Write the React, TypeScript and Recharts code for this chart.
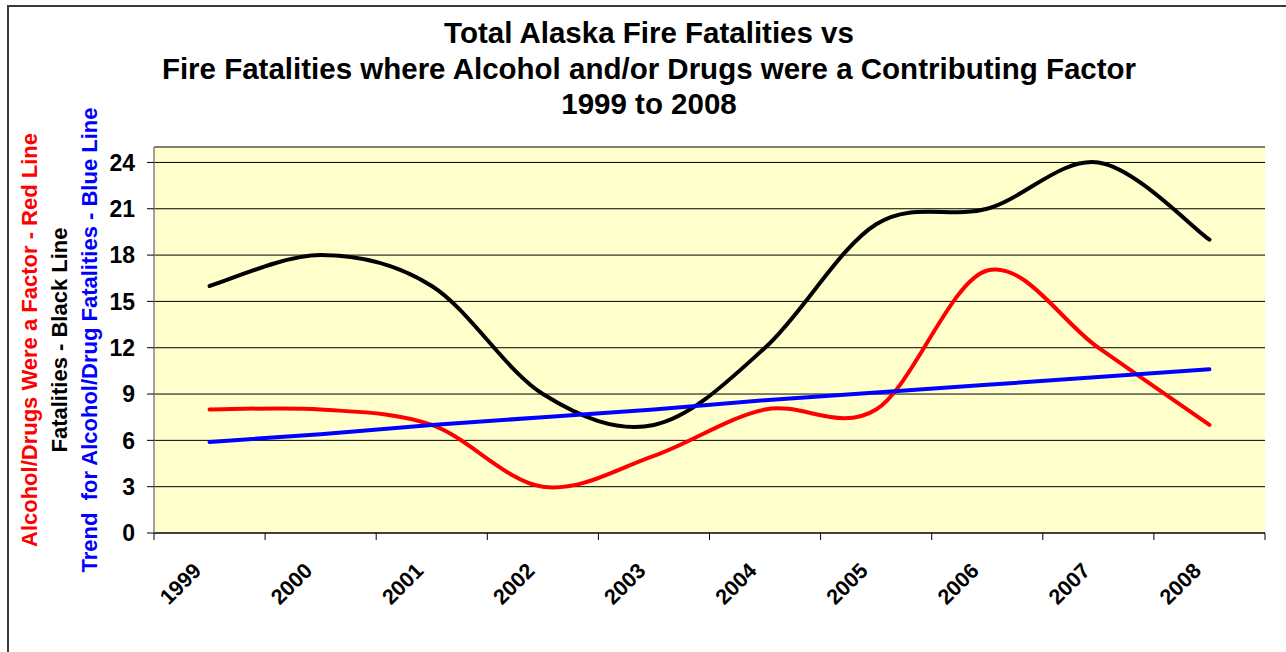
import React from 'react';
import { ComposedChart, Line, XAxis, YAxis, CartesianGrid } from 'recharts';

const years = ['1999', '2000', '2001', '2002', '2003', '2004', '2005', '2006', '2007', '2008'];
const totalFatalities = [16, 18, 16, 9, 7, 12, 20, 21, 24, 19];
const alcoholDrugFatalities = [8, 8, 7, 3, 5, 8, 8, 17, 12, 7];
const alcoholDrugTrend = [5.9, 6.4, 7.0, 7.5, 8.0, 8.6, 9.1, 9.6, 10.1, 10.6];
const yTicks = [0, 3, 6, 9, 12, 15, 18, 21, 24];

const titleLines = [
  'Total Alaska Fire Fatalities vs',
  'Fire Fatalities where Alcohol and/or Drugs were a Contributing Factor',
  '1999 to 2008',
];

const data = years.map((year, i) => ({
  year,
  total: totalFatalities[i],
  alcohol: alcoholDrugFatalities[i],
  trend: alcoholDrugTrend[i],
}));

const FONT = '"Liberation Sans", Arial, Helvetica, sans-serif';

// Excel-like smoothed line (Catmull-Rom through the points)
const excelSmooth: any = (context: any) => {
  let pts: number[][] = [];
  return {
    areaStart() {},
    areaEnd() {},
    lineStart() {
      pts = [];
    },
    point(x: number, y: number) {
      pts.push([+x, +y]);
    },
    lineEnd() {
      const n = pts.length;
      if (n === 0) return;
      context.moveTo(pts[0][0], pts[0][1]);
      if (n === 1) return;
      const t = 1 / 6;
      for (let i = 0; i < n - 1; i++) {
        const p0 = pts[Math.max(0, i - 1)];
        const p1 = pts[i];
        const p2 = pts[i + 1];
        const p3 = pts[Math.min(n - 1, i + 2)];
        context.bezierCurveTo(
          p1[0] + (p2[0] - p0[0]) * t,
          p1[1] + (p2[1] - p0[1]) * t,
          p2[0] - (p3[0] - p1[0]) * t,
          p2[1] - (p3[1] - p1[1]) * t,
          p2[0],
          p2[1]
        );
      }
    },
  };
};

const XTick = (props: any) => {
  const { x, y, payload, index, visibleTicksCount, width } = props;
  const half =
    typeof payload?.offset === 'number' && payload.offset > 0
      ? payload.offset
      : width / (2 * visibleTicksCount);
  const ax = x - 7;
  const ay = y + 32;
  return (
    <g>
      <line x1={x - half} y1={y - 7} x2={x - half} y2={y} stroke="#000" strokeWidth={1} />
      {index === visibleTicksCount - 1 && (
        <line x1={x + half} y1={y - 7} x2={x + half} y2={y} stroke="#000" strokeWidth={1} />
      )}
      <text
        x={ax}
        y={ay}
        transform={`rotate(-45 ${ax} ${ay})`}
        textAnchor="end"
        fontFamily={FONT}
        fontWeight="bold"
        fontSize={21.5}
        fill="#000"
      >
        {payload.value}
      </text>
    </g>
  );
};

export default function App() {
  return (
    <div
      style={{
        position: 'absolute',
        left: 0,
        top: 0,
        width: 1286,
        height: 652,
        overflow: 'hidden',
        background: '#fff',
      }}
    >
      <div
        style={{
          position: 'absolute',
          left: 7,
          top: 5,
          width: 1400,
          height: 800,
          border: '2px solid #3a3a3a',
        }}
      />
      <div
        style={{
          position: 'absolute',
          left: 0,
          top: 15,
          width: 1298,
          textAlign: 'center',
          fontFamily: FONT,
          fontWeight: 'bold',
          fontSize: 29.5,
          lineHeight: '35.5px',
          color: '#000',
        }}
      >
        {titleLines.map((l) => (
          <div key={l}>{l}</div>
        ))}
      </div>
      <div style={{ position: 'absolute', left: 0, top: 0 }}>
        <ComposedChart
          width={1286}
          height={652}
          data={data}
          margin={{ top: 147, right: 21, bottom: 19, left: 80 }}
        >
          <CartesianGrid horizontal vertical={false} stroke="#000" strokeWidth={1} fill="#FFFFCC" fillOpacity={1} />
          <XAxis
            dataKey="year"
            scale="band"
            height={100}
            interval={0}
            tickSize={7}
            tickMargin={0}
            tickLine={false}
            axisLine={{ stroke: '#000', strokeWidth: 1 }}
            tick={<XTick />}
          />
          <XAxis
            xAxisId="top"
            orientation="top"
            dataKey="year"
            scale="band"
            height={0}
            tick={false}
            tickLine={false}
            axisLine={{ stroke: '#808080', strokeWidth: 1.5 }}
          />
          <YAxis
            domain={[0, 25]}
            ticks={yTicks}
            interval={0}
            width={74}
            tickSize={7}
            tickMargin={12}
            axisLine={{ stroke: '#808080', strokeWidth: 1.5 }}
            tickLine={{ stroke: '#000' }}
            tick={{ fontFamily: FONT, fontWeight: 'bold', fontSize: 23, fill: '#000' }}
          />
          <YAxis
            yAxisId="r"
            orientation="right"
            domain={[0, 25]}
            width={0}
            tick={false}
            tickLine={false}
            axisLine={{ stroke: '#808080', strokeWidth: 1.5 }}
          />
          <Line
            dataKey="total"
            type={excelSmooth}
            stroke="#000"
            strokeWidth={4}
            strokeLinecap="round"
            dot={false}
            activeDot={false}
            isAnimationActive={false}
          />
          <Line
            dataKey="alcohol"
            type={excelSmooth}
            stroke="#FF0000"
            strokeWidth={4}
            strokeLinecap="round"
            dot={false}
            activeDot={false}
            isAnimationActive={false}
          />
          <Line
            dataKey="trend"
            type="linear"
            stroke="#0000FF"
            strokeWidth={4}
            strokeLinecap="round"
            dot={false}
            activeDot={false}
            isAnimationActive={false}
          />
        </ComposedChart>
      </div>
      <svg
        width={130}
        height={652}
        style={{ position: 'absolute', left: 0, top: 0, pointerEvents: 'none' }}
      >
        <text
          x={37}
          y={340}
          transform="rotate(-90 37 340)"
          textAnchor="middle"
          fontFamily={FONT}
          fontWeight="bold"
          fontSize={22}
          fill="#FF0000"
        >
          Alcohol/Drugs Were a Factor - Red Line
        </text>
        <text
          x={67}
          y={340}
          transform="rotate(-90 67 340)"
          textAnchor="middle"
          fontFamily={FONT}
          fontWeight="bold"
          fontSize={22}
          fill="#000"
        >
          Fatalities - Black Line
        </text>
        <text
          x={97}
          y={340}
          transform="rotate(-90 97 340)"
          textAnchor="middle"
          fontFamily={FONT}
          fontWeight="bold"
          fontSize={22}
          fill="#0000FF"
          style={{ whiteSpace: 'pre' }}
        >
          {'Trend  for Alcohol/Drug Fatalities - Blue Line'}
        </text>
      </svg>
    </div>
  );
}
